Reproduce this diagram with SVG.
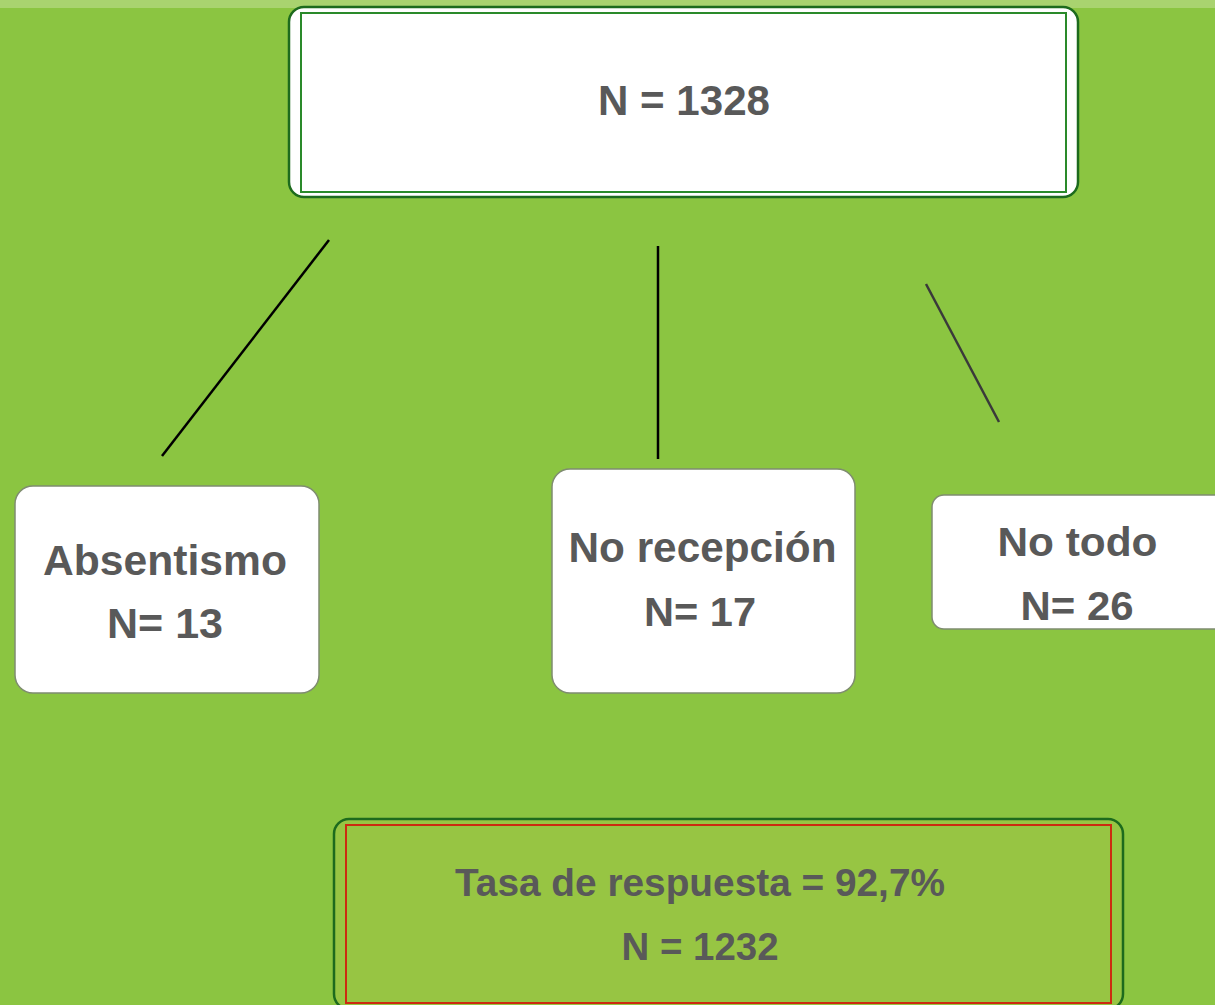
<svg xmlns="http://www.w3.org/2000/svg" width="1215" height="1005" viewBox="0 0 1215 1005">
<style>
.t{font-family:"Liberation Sans",Arial,sans-serif;font-weight:bold;fill:#595959;text-anchor:middle}
.sub{fill:#ffffff;stroke:#7f8c70;stroke-width:1.5}
.outer{stroke:#1d6b1d;stroke-width:2.5}
.conn{stroke-width:2.5;fill:none}
</style>
<rect x="0" y="0" width="1215" height="1005" fill="#8bc541"/>
<rect x="0" y="0" width="1215" height="8" fill="#a9d36f"/>
<g id="connectors">
<line class="conn" x1="329" y1="240" x2="162" y2="456" stroke="#000000"/>
<line class="conn" x1="658" y1="246" x2="658" y2="459" stroke="#000000"/>
<line class="conn" x1="926" y1="284" x2="999" y2="422" stroke="#3a3a3a"/>
</g>
<g id="node-total">
<rect class="outer" x="289" y="7" width="789" height="190" rx="15" fill="#ffffff"/>
<rect x="301" y="13" width="765" height="179" fill="none" stroke="#2a8a2a" stroke-width="2"/>
<text class="t" x="684" y="115" font-size="42" textLength="172" lengthAdjust="spacingAndGlyphs">N = 1328</text>
</g>
<g id="node-absentismo">
<rect class="sub" x="15" y="486" width="304" height="207" rx="18"/>
<text class="t" x="165" y="575" font-size="42" textLength="244" lengthAdjust="spacingAndGlyphs">Absentismo</text>
<text class="t" x="165" y="638" font-size="42" textLength="116" lengthAdjust="spacingAndGlyphs">N= 13</text>
</g>
<g id="node-norecepcion">
<rect class="sub" x="552" y="469" width="303" height="224" rx="18"/>
<text class="t" x="702.5" y="562" font-size="42" textLength="268" lengthAdjust="spacingAndGlyphs">No recepción</text>
<text class="t" x="700" y="626" font-size="41" textLength="112" lengthAdjust="spacingAndGlyphs">N= 17</text>
</g>
<g id="node-notodo">
<rect class="sub" x="932" y="495" width="300" height="134" rx="12"/>
<text class="t" x="1077.5" y="556" font-size="40" textLength="160" lengthAdjust="spacingAndGlyphs">No todo</text>
<text class="t" x="1077" y="620" font-size="40" textLength="113" lengthAdjust="spacingAndGlyphs">N= 26</text>
</g>
<g id="node-tasa">
<rect class="outer" x="334" y="819" width="789" height="190" rx="15" fill="#97c543"/>
<rect x="346" y="825" width="765" height="178" fill="none" stroke="#cc2a10" stroke-width="2"/>
<text class="t" x="700" y="896" font-size="39" textLength="490" lengthAdjust="spacingAndGlyphs">Tasa de respuesta = 92,7%</text>
<text class="t" x="700" y="960" font-size="39" textLength="157" lengthAdjust="spacingAndGlyphs">N = 1232</text>
</g>
</svg>
